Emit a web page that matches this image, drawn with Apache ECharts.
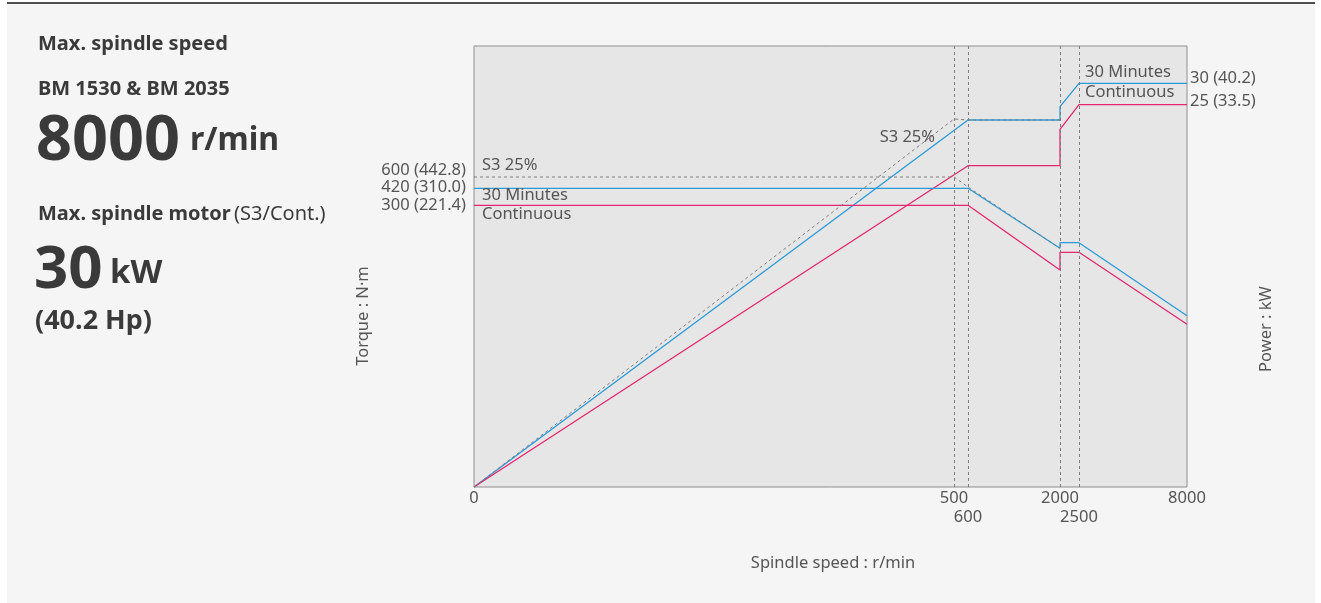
<!DOCTYPE html>
<html><head><meta charset="utf-8">
<script src="https://cdn.jsdelivr.net/npm/echarts@6/dist/echarts.min.js"></script>
<style>html,body{margin:0;padding:0;background:#fff}#c{width:1321px;height:603px}</style>
</head><body><div id="c"></div>
<script>
// ---- axis definition (schematic, non-linear speed axis) ----
const speedTicks = [0, 500, 600, 2000, 2500, 8000];
const speedScale = [0, 480, 494, 586, 605, 713];
const tickLabels = ['0', '500', '600', '2000', '2500', '8000'];
const tickSecondRow = [false, false, true, false, true, false];
const guideSpeeds = [500, 600, 2000, 2500];

// ---- torque ticks (left) & power ticks (right), schematic levels ----
const torqueTickLevels = [310, 298.7, 281.7];
const torqueTickLabels = ['600 (442.8)', '420 (310.0)', '300 (221.4)'];
const powerTickLevels = [403.7, 382.3];
const powerTickLabels = ['30 (40.2)', '25 (33.5)'];

// ---- curves: speed (r/min) and schematic level ----
const s3PowerSpeed = [0, 500, 600, 2000];
const s3PowerLevel = [0, 368, 367, 367];
const s3TorqueSpeed = [0, 500, 600, 2000];
const s3TorqueLevel = [310, 310, 300, 238.7];

const min30PowerSpeed = [0, 600, 2000, 2000, 2500, 8000];
const min30PowerLevel = [0, 367, 367, 380.3, 403.7, 403.7];
const contPowerSpeed = [0, 600, 2000, 2000, 2500, 8000];
const contPowerLevel = [0, 321.3, 321.3, 357.7, 382.3, 382.3];

const min30TorqueSpeed = [0, 600, 2000, 2000, 2500, 8000];
const min30TorqueLevel = [298.7, 298.7, 238.7, 244.3, 244.3, 171.3];
const contTorqueSpeed = [0, 600, 2000, 2000, 2500, 8000];
const contTorqueLevel = [281.7, 281.7, 217, 234.7, 234.7, 162.7];

const LEVEL_MAX = 441;
const BLUE = '#2a9bd8', RED = '#e3276f', GRAY = '#7c7c7c', TXT = '#555';
const FONT = '"Noto Sans", sans-serif';
const FS = 16.5;
// vertical nudges of the stacked tick labels (text placement only)
const torqueLabelNudge = [-7, -1, 0];
const powerLabelNudge = [-5, -3.5];

function xPos(speed) {
  for (let i = 1; i < speedTicks.length; i++) {
    if (speed <= speedTicks[i]) {
      const t = (speed - speedTicks[i - 1]) / (speedTicks[i] - speedTicks[i - 1]);
      return speedScale[i - 1] + t * (speedScale[i] - speedScale[i - 1]);
    }
  }
  return speedScale[speedScale.length - 1];
}
function pts(sp, lv) { return sp.map((s, i) => [xPos(s), lv[i]]); }

function mpLabel(coord, text, pos, align) {
  return {
    coord: coord, symbol: 'circle', symbolSize: 0, value: text,
    label: { show: true, formatter: text, position: pos, align: align, verticalAlign: 'middle',
      color: TXT, fontSize: FS, fontFamily: FONT }
  };
}

const chart = echarts.init(document.getElementById('c'));
const lineBase = { type: 'line', symbol: 'none', silent: true, animation: false };
const XMAX = speedScale[speedScale.length - 1];

chart.setOption({
  animation: false,
  backgroundColor: '#fff',
  grid: { left: 474, top: 46, width: 713, height: 441, show: true,
    backgroundColor: '#e6e6e6', borderColor: '#8f8f8f', borderWidth: 1 },
  xAxis: {
    type: 'value', min: 0, max: XMAX,
    axisLine: { show: false }, axisTick: { show: false }, splitLine: { show: false },
    axisLabel: {
      customValues: speedTicks.map(xPos), margin: 2, hideOverlap: false,
      color: TXT, fontSize: FS, fontFamily: FONT, lineHeight: 19,
      formatter: function (v) {
        const i = speedScale.findIndex(p => Math.abs(p - v) < 0.01);
        if (i < 0) return '';
        return (tickSecondRow[i] ? '\n' : '') + tickLabels[i];
      }
    }
  },
  yAxis: [{
    type: 'value', min: 0, max: LEVEL_MAX, position: 'left',
    axisLine: { show: false }, axisTick: { show: false }, splitLine: { show: false }, axisLabel: { show: false }
  }, {
    type: 'value', min: 0, max: LEVEL_MAX, position: 'right',
    axisLine: { show: false }, axisTick: { show: false }, splitLine: { show: false }, axisLabel: { show: false }
  }],
  series: [
    Object.assign({}, lineBase, {
      name: 'S3 25% power', data: pts(s3PowerSpeed, s3PowerLevel), z: 3,
      lineStyle: { color: GRAY, width: 1, type: [3, 3] },
      markLine: { symbol: 'none', silent: true, label: { show: false },
        lineStyle: { color: GRAY, width: 1, type: [3, 3] },
        data: guideSpeeds.map(s => ({ xAxis: xPos(s) })) },
      markPoint: { silent: true, data: [mpLabel([xPos(500), 368], 'S3 25%', [-19, 18], 'right')] }
    }),
    Object.assign({}, lineBase, {
      name: 'S3 25% torque', data: pts(s3TorqueSpeed, s3TorqueLevel), z: 3,
      lineStyle: { color: GRAY, width: 1, type: [3, 3] },
      markPoint: { silent: true, data: [mpLabel([xPos(0), 310], 'S3 25%', [8, -12], 'left')] }
    }),
    Object.assign({}, lineBase, {
      name: '30 Minutes power', data: pts(min30PowerSpeed, min30PowerLevel), z: 2,
      lineStyle: { color: BLUE, width: 1.3 },
      markPoint: { silent: true, data: [mpLabel([xPos(2500), 403.7], '30 Minutes', [6, -11], 'left')] }
    }),
    Object.assign({}, lineBase, {
      name: 'Continuous power', data: pts(contPowerSpeed, contPowerLevel), z: 2,
      lineStyle: { color: RED, width: 1.3 },
      markPoint: { silent: true, data: [mpLabel([xPos(2500), 382.3], 'Continuous', [6, -12.5], 'left')] }
    }),
    Object.assign({}, lineBase, {
      name: '30 Minutes torque', data: pts(min30TorqueSpeed, min30TorqueLevel), z: 2,
      lineStyle: { color: BLUE, width: 1.3 },
      markPoint: { silent: true, data: [mpLabel([xPos(0), 298.7], '30 Minutes', [8, 7], 'left')] }
    }),
    Object.assign({}, lineBase, {
      name: 'Continuous torque', data: pts(contTorqueSpeed, contTorqueLevel), z: 2,
      lineStyle: { color: RED, width: 1.3 },
      markPoint: { silent: true, data: [mpLabel([xPos(0), 281.7], 'Continuous', [8, 9], 'left')] }
    }),
    // tick labels for torque (left) and power (right) scales
    {
      type: 'line', name: 'tick labels', data: [], silent: true, symbol: 'none',
      markPoint: { silent: true, data:
        torqueTickLevels.map((lv, i) => mpLabel([0, lv], torqueTickLabels[i], [-8, torqueLabelNudge[i]], 'right'))
        .concat(powerTickLevels.map((lv, i) => mpLabel([XMAX, lv], powerTickLabels[i], [3, powerLabelNudge[i]], 'left')))
      }
    }
  ],
  graphic: [
    { type: 'rect', z: -10, silent: true, shape: { x: 7, y: 3, width: 1308, height: 600 }, style: { fill: '#f5f5f5' } },
    { type: 'line', z: -9, silent: true, shape: { x1: 7, y1: 3, x2: 1315, y2: 3 }, style: { stroke: '#4d4d4d', lineWidth: 2 } },
    { type: 'text', x: 38, y: 44, style: { text: 'Max. spindle speed', font: 'bold 20px ' + FONT, fill: '#3a3a3a', textVerticalAlign: 'middle' } },
    { type: 'text', x: 38, y: 89, style: { text: 'BM 1530 & BM 2035', font: 'bold 20px ' + FONT, fill: '#3a3a3a', textVerticalAlign: 'middle' } },
    { type: 'text', x: 36, y: 142, style: { text: '8000', font: 'bold 63px ' + FONT, fill: '#3a3a3a', textVerticalAlign: 'middle' } },
    { type: 'text', x: 190, y: 141, style: { text: 'r/min', font: 'bold 32px ' + FONT, fill: '#3a3a3a', textVerticalAlign: 'middle' } },
    { type: 'text', x: 38, y: 214, style: { text: '{b|Max. spindle motor} {r|(S3/Cont.)}', textVerticalAlign: 'middle',
      rich: { b: { fontSize: 20, fontWeight: 'bold', fontFamily: FONT, fill: '#3a3a3a' }, r: { fontSize: 20, fontFamily: FONT, fill: '#3a3a3a' } } } },
    { type: 'text', x: 34, y: 271, style: { text: '30', font: 'bold 60px ' + FONT, fill: '#3a3a3a', textVerticalAlign: 'middle' } },
    { type: 'text', x: 110, y: 274, style: { text: 'kW', font: 'bold 33px ' + FONT, fill: '#3a3a3a', textVerticalAlign: 'middle' } },
    { type: 'text', x: 35, y: 321, style: { text: '(40.2 Hp)', font: 'bold 27px ' + FONT, fill: '#3a3a3a', textVerticalAlign: 'middle' } },
    { type: 'text', x: 363, y: 316, rotation: Math.PI / 2, style: { text: 'Torque : N·m', font: FS + 'px ' + FONT, fill: TXT, textAlign: 'center', textVerticalAlign: 'middle' } },
    { type: 'text', x: 1266, y: 329, rotation: Math.PI / 2, style: { text: 'Power : kW', font: FS + 'px ' + FONT, fill: TXT, textAlign: 'center', textVerticalAlign: 'middle' } },
    { type: 'text', x: 833, y: 563, style: { text: 'Spindle speed : r/min', font: FS + 'px ' + FONT, fill: TXT, textAlign: 'center', textVerticalAlign: 'middle' } }
  ]
});
</script></body></html>
